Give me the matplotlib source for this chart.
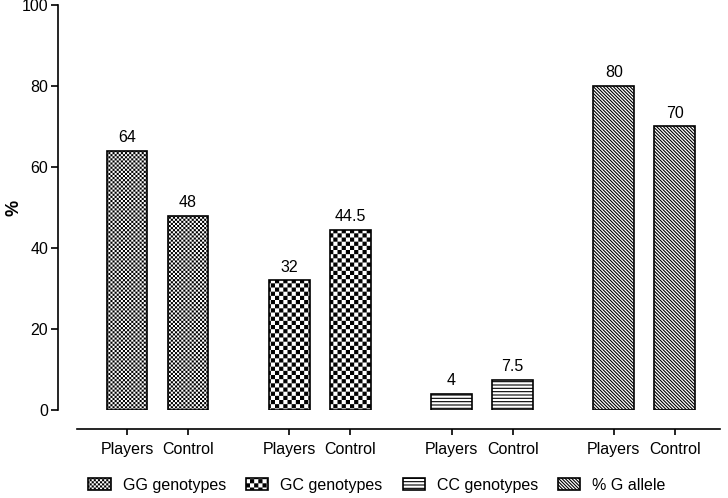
import warnings
import numpy as np
import matplotlib
matplotlib.use('Agg')
import matplotlib.pyplot as plt
import matplotlib.hatch as mhatch
from matplotlib.path import Path

warnings.filterwarnings('ignore')

# data
groups = ['GG genotypes', 'GC genotypes', 'CC genotypes', '% G allele']
players = [64, 32, 4, 80]
control = [48, 44.5, 7.5, 70]
bar_names = ['Players', 'Control']
hatches = ['cccc', 'cc', '-----', '\\' * 10]

plt.rcParams['font.family'] = ['Liberation Sans', 'DejaVu Sans']
plt.rcParams['hatch.linewidth'] = 0.8


class CheckerHatch(mhatch.HatchPatternBase):
    """Filled checkerboard hatch, triggered by the letter 'c'."""

    def __init__(self, hatch, density):
        self.n = hatch.count('c') * int(density) * 2
        self.num_vertices = (self.n * self.n // 2) * 5 if self.n else 0

    def set_vertices_and_codes(self, vertices, codes):
        n = self.n
        s = 1.0 / n
        # shrink squares so the hatch stroke doesn't swallow the white cells
        d = plt.rcParams['hatch.linewidth'] / 72 / 2
        sq = np.array([[d, d], [s - d, d], [s - d, s - d], [d, s - d], [d, d]])
        parts = [sq + [i * s, j * s] for i in range(n) for j in range(n)
                 if (i + j) % 2 == 0]
        vertices[:] = np.concatenate(parts)
        cc = [Path.MOVETO, Path.LINETO, Path.LINETO, Path.LINETO, Path.CLOSEPOLY]
        codes[:] = np.tile(cc, len(parts))


mhatch._hatch_types.append(CheckerHatch)

fig = plt.figure(figsize=(7.28, 4.98), dpi=100)
ax = fig.add_axes([0.1058, 0.1767, 0.8832, 0.8133])

gap = 2.66
width = 0.67
ticks, ticklabels = [], []
for i, g in enumerate(groups):
    xs = [i * gap, i * gap + 1]
    bars = ax.bar(xs, [players[i], control[i]], width=width, color='white',
                  edgecolor='black', linewidth=1.2, hatch=hatches[i], label=g)
    ax.bar_label(bars, fmt='%g', padding=4, fontsize=11.5)
    ticks += xs
    ticklabels += bar_names

ax.set_xlim(-0.82, 9.72)
ax.set_ylim(0, 100)
ax.set_yticks([0, 20, 40, 60, 80, 100])
ax.set_xticks(ticks)
ax.set_xticklabels(ticklabels)
ax.tick_params(axis='y', labelsize=11.5, length=5, width=1.2, pad=2)
ax.tick_params(axis='x', labelsize=11.5, length=4, width=1.2, pad=5)

for s in ['top', 'right']:
    ax.spines[s].set_visible(False)
ax.spines['left'].set_position(('outward', 13.7))
ax.spines['bottom'].set_position(('outward', 13.7))
ax.spines['left'].set_linewidth(1.2)
ax.spines['bottom'].set_linewidth(1.2)

ax.set_ylabel('%', fontsize=13, fontweight='bold')
ax.yaxis.set_label_coords(-0.085, 0.5)

fig.legend(loc='lower center', bbox_to_anchor=(0.518, -0.018), ncol=4,
           frameon=False, fontsize=11.5, handlelength=1.4, handleheight=0.7,
           columnspacing=1.25, handletextpad=0.75)

fig.savefig('out.png', dpi=100, facecolor='white')
